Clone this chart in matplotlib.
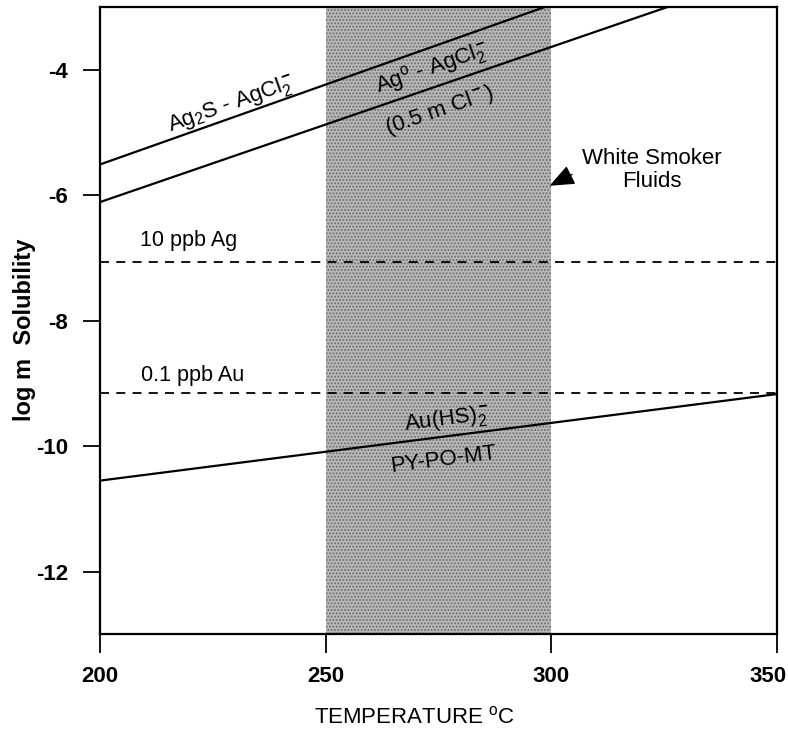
import numpy as np
import matplotlib
matplotlib.use("Agg")
import matplotlib.pyplot as plt
import matplotlib.transforms as mtransforms

plt.rcParams['font.family'] = ['Liberation Sans', 'DejaVu Sans']
plt.rcParams['mathtext.fontset'] = 'custom'
plt.rcParams['mathtext.rm'] = 'Liberation Sans'
plt.rcParams['mathtext.it'] = 'Liberation Sans:italic'
plt.rcParams['mathtext.bf'] = 'Liberation Sans:bold'

# Data (temperature in deg C, log m solubility)
temps = [200, 350]
ag2s_agcl2 = [-5.51, -1.69]
ag0_agcl2 = [-6.11, -2.40]
au_hs2 = [-10.55, -9.17]
ppb10_ag = -7.07
ppb01_au = -9.15
white_smoker = [250, 300]
xticks = [200, 250, 300, 350]
yticks = [-12, -10, -8, -6, -4]

fig = plt.figure(figsize=(7.88, 7.29), dpi=100)
ax = fig.add_axes([0.1269, 0.1299, 0.8591, 0.8605])

ax.axvspan(white_smoker[0], white_smoker[1], facecolor='#bababa', edgecolor='#6e6e6e',
           hatch='.....', linewidth=0, zorder=0)

ax.plot(temps, ag2s_agcl2, color='black', lw=1.6, zorder=3)
ax.plot(temps, ag0_agcl2, color='black', lw=1.6, zorder=3)
ax.plot(temps, au_hs2, color='black', lw=1.6, zorder=3)
ax.axhline(ppb10_ag, color='black', lw=1.3, ls=(0, (5, 4)), zorder=3)
ax.axhline(ppb01_au, color='black', lw=1.3, ls=(0, (5, 4)), zorder=3)

ax.set_xlim(200, 350)
ax.set_ylim(-13, -3)

def slope(v):
    return (v[1] - v[0]) / (temps[1] - temps[0])

def ang(v):
    return np.degrees(np.arctan(slope(v)))

FS = 16
kw = dict(ha='center', va='center', fontsize=FS, transform_rotates_text=True,
          rotation_mode='anchor', zorder=4)
ax.text(229, -4.55, r'Ag$_2$S - AgCl$_2^{\bf -}$', rotation=ang(ag2s_agcl2), **kw)
ax.text(273.6, -3.98, r'Ag$^{\rm o}$ - AgCl$_2^{\bf -}$', rotation=ang(ag0_agcl2), **kw)
ax.text(275.3, -4.65, r'(0.5 m Cl$^{\bf -}$)', rotation=ang(ag0_agcl2), **kw)
ax.text(277, -9.58, r'Au(HS)$_2^{\bf -}$', rotation=ang(au_hs2), **kw)
ax.text(276.2, -10.22, 'PY-PO-MT', rotation=ang(au_hs2), **kw)

ax.text(219.7, -6.72, '10 ppb Ag', ha='center', va='center', fontsize=15.5)
ax.text(220.6, -8.87, '0.1 ppb Au', ha='center', va='center', fontsize=15.5)

ax.text(322.3, -5.6, 'White Smoker\nFluids', ha='center', va='center', fontsize=FS,
        linespacing=1.15)
ax.annotate('', xy=(299.6, -5.85), xytext=(304.6, -5.67),
            arrowprops=dict(arrowstyle='-|>,head_length=1.1,head_width=0.45',
                            color='black', lw=1, shrinkA=0, shrinkB=0,
                            mutation_scale=14))

ax.set_xticks(xticks)
ax.set_yticks(yticks)
ax.set_xticklabels([str(t) for t in xticks], fontsize=16, fontweight='bold')
ax.set_yticklabels([str(t) for t in yticks], fontsize=16, fontweight='bold')
ax.tick_params(axis='x', direction='out', length=14, width=1.3, pad=9)
ax.tick_params(axis='y', direction='out', length=12, width=1.3, pad=11)
last = ax.get_xticklabels()[-1]
last.set_transform(last.get_transform() +
                   mtransforms.ScaledTranslation(-0.09, 0, fig.dpi_scale_trans))
for s in ax.spines.values():
    s.set_linewidth(1.6)

ax.set_xlabel(r'TEMPERATURE $^{\rm o}$C', fontsize=16, va='center')
ax.xaxis.set_label_coords(0.465, -0.1327)
ax.set_ylabel('log m  Solubility', fontsize=17, fontweight='bold', va='center')
ax.yaxis.set_label_coords(-0.111, 0.485)

fig.savefig('out.png', dpi=100)
